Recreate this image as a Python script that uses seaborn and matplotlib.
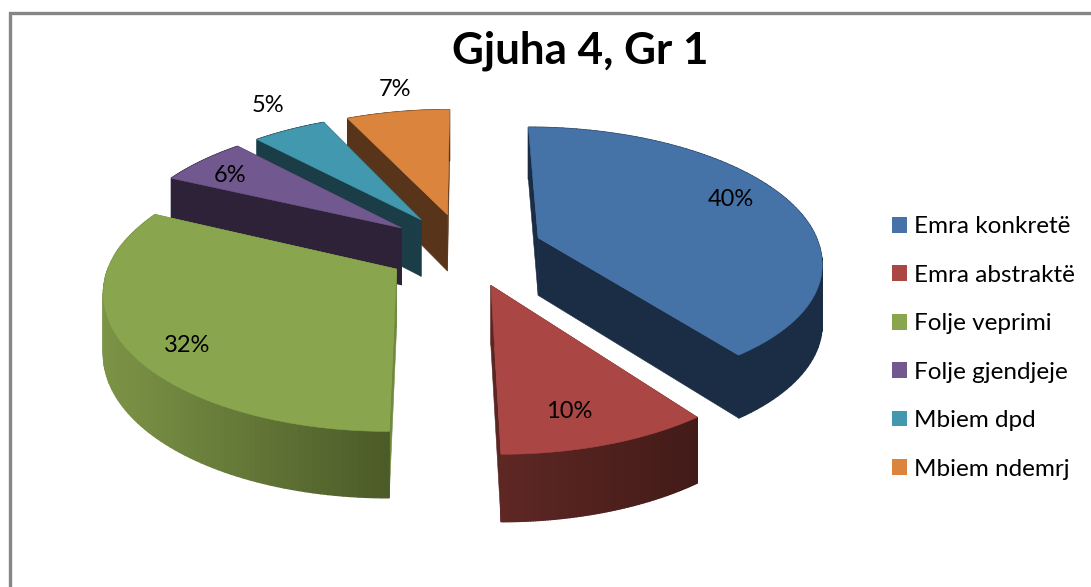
import numpy as np
import matplotlib
matplotlib.use("Agg")
import matplotlib.pyplot as plt
from matplotlib.colors import to_rgb
from matplotlib.patches import Patch, Rectangle
import seaborn as sns

title = "Gjuha 4, Gr 1"
categories = ["Emra konkretë", "Emra abstraktë", "Folje veprimi", "Folje gjendjeje", "Mbiem dpd", "Mbiem ndemrj"]
shares = [40, 10, 32, 6, 5, 7]
top_colors = ["#4572A7", "#AA4643", "#89A54E", "#71588F", "#4198AF", "#DB843D"]
rim_left = ["#1B2D45", "#5E2724", "#7C9446", "#2E2238", "#1A3D47", "#58351A"]
rim_right = ["#1B2D45", "#421B18", "#4B5A28", "#2E2238", "#1A3D47", "#58351A"]
cut_colors = ["#1B2D45", "#5A2522", "#6F8A3F", "#2E2238", "#1A3D47", "#58351A"]

sns.set_theme(style="white")
plt.rcParams["font.family"] = ["Lato", "DejaVu Sans"]

fig = plt.figure(figsize=(10.91, 5.87), dpi=100)
ax = fig.add_axes([0, 0, 1, 1])
wedges, _ = ax.pie(shares, startangle=90, counterclock=False, explode=[0.28] * 6, colors=top_colors)
for w in wedges:
    w.set_visible(False)
ax.set_aspect("auto")
ax.set_xlim(0, 1091)
ax.set_ylim(587, 0)
ax.axis("off")


# tilted view of the pie plane, far side smaller
def project(u, v):
    s = 1 / (1 + 0.153 * v)
    shear = 5.3 * -v if v < 0 else 0
    return 464 + 282 * u * s + shear, 249 - 130.7 * v * s, 58 * s ** 0.7


def wall(p, q, color, lw=1.0):
    x1, y1, d1 = project(*p)
    x2, y2, d2 = project(*q)
    ax.fill([x1, x2, x2, x1], [y1, y2, y2 + d2, y1 + d1], color=color, lw=lw, zorder=z)


z = 1
for i in [5, 4, 3, 0, 2, 1]:
    w = wedges[i]
    cx, cy = w.center
    angles = np.radians(np.linspace(w.theta1, w.theta2, 90))
    rim = [(cx + np.cos(a), cy + np.sin(a)) for a in angles]
    xs = [project(*p)[0] for p in rim]
    lo, hi = min(xs), max(xs)
    left, right = np.array(to_rgb(rim_left[i])), np.array(to_rgb(rim_right[i]))
    # the two cut faces go first, the rim and top hide whatever faces away
    wall((cx, cy), rim[0], cut_colors[i], 0.4)
    wall((cx, cy), rim[-1], cut_colors[i], 0.4)
    # outer side, shaded from left to right
    for p, q in zip(rim[:-1], rim[1:]):
        t = (project(*p)[0] - lo) / (hi - lo)
        wall(p, q, tuple(left + (right - left) * t))
    # top face
    pts = [project(cx, cy)[:2]] + [project(*p)[:2] for p in rim]
    ax.fill([p[0] for p in pts], [p[1] for p in pts], color=top_colors[i], lw=0.4, zorder=z)
    z += 1

label_xy = [(731, 200), (569, 412), (187, 346), (230, 176), (268, 105), (395, 90)]
for share, (x, y) in zip(shares, label_xy):
    ax.text(x, y, f"{share}%", ha="center", va="center", fontsize=17, color="black", zorder=20)

ax.text(580, 51, title, ha="center", va="center", fontsize=31.7, fontweight="bold", color="black")

handles = [Patch(facecolor=c, edgecolor="none") for c in top_colors]
fig.legend(handles, categories, loc="center left", bbox_to_anchor=(892 / 1091, 0.4072), frameon=False,
           fontsize=17.5, borderpad=0, borderaxespad=0, handlelength=0.62, handleheight=0.62,
           handletextpad=0.29, labelspacing=1.13, labelcolor="black")

fig.add_artist(Rectangle((10 / 1091, -0.05), 2, 0.05 + (587 - 13.3) / 587, transform=fig.transFigure,
                         fill=False, edgecolor="#868686", lw=2.4))
fig.savefig("out.png", dpi=100)
